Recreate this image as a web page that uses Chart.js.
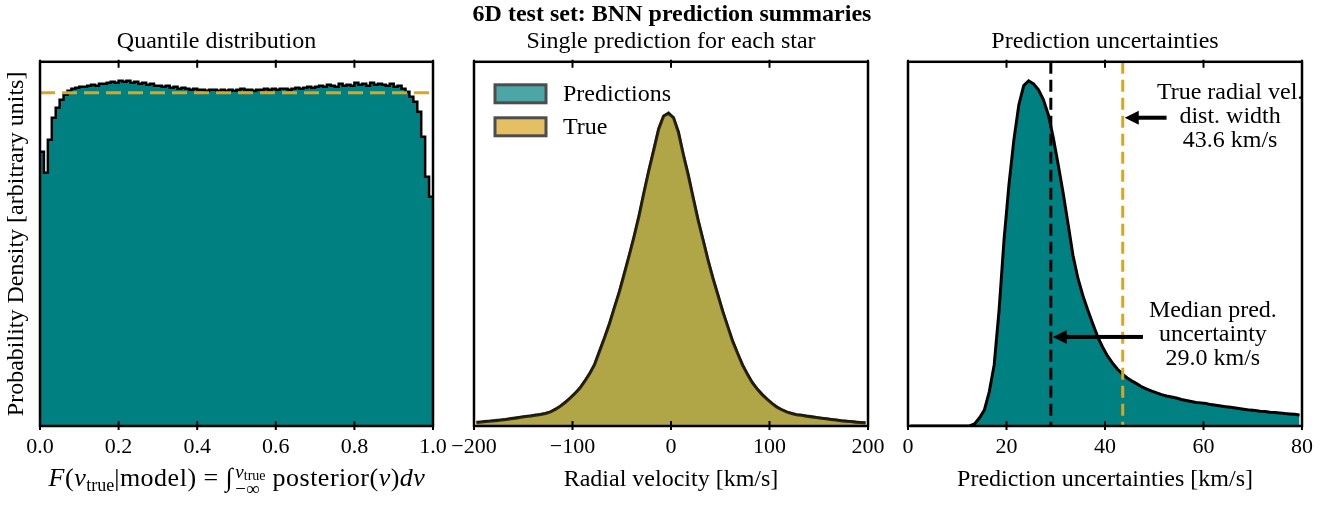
<!DOCTYPE html>
<html>
<head>
<meta charset="utf-8">
<script src="https://cdn.jsdelivr.net/npm/chart.js@4.4.1/dist/chart.umd.min.js"></script>
<style>
  body { margin: 0; background: #fff; }
  #fig { position: relative; width: 1340px; height: 505px; font-family: "Liberation Serif", "Times New Roman", serif; color: #000; overflow: hidden; }
  #fig canvas { position: absolute; top: 0; }
  #suptitle { position: absolute; left: 372px; width: 600px; top: 0; line-height: 26px; text-align: center; font-weight: bold; font-size: 24px; }
  #qlabel { position: absolute; left: 0; width: 474px; top: 463px; line-height: 30px; text-align: center; font-size: 26px; letter-spacing: 0.5px; white-space: nowrap; }
  #qlabel sub { font-size: 18px; line-height: 0; vertical-align: -5px; letter-spacing: 0; }
  .lims { display: inline-block; vertical-align: middle; font-size: 19px; line-height: 17px; margin: 0 7px 0 2px; text-align: left; letter-spacing: 0; }
  .lims > span { display: block; }
  .lims sub { font-size: 14px !important; vertical-align: -2px !important; }
</style>
</head>
<body>
<div id="fig">
  <canvas id="quantChart" width="460" height="505" style="left:0"></canvas>
  <canvas id="velChart" width="470" height="505" style="left:430px"></canvas>
  <canvas id="uncChart" width="460" height="505" style="left:880px"></canvas>
  <div id="suptitle">6D test set: BNN prediction summaries</div>
  <div id="qlabel"><i>F</i>(<i>v</i><sub>true</sub>|model) = ∫<span class="lims"><span><i>v</i><sub>true</sub></span><span>−∞</span></span>posterior(<i>v</i>)<i>dv</i></div>
</div>
<script>
Chart.defaults.font.family = '"Liberation Serif", "Times New Roman", serif';
Chart.defaults.color = '#000';

const TEAL = '#008080';
const GOLD = '#daa520';

// quantile histogram, 100 bins on [0, 1]
const quantileDensity = [
  0.823, 0.760, 0.859, 0.925, 0.955, 0.979, 0.994, 1.006, 1.012, 1.015,
  1.018, 1.018, 1.021, 1.024, 1.021, 1.027, 1.027, 1.030, 1.033, 1.030,
  1.036, 1.033, 1.036, 1.030, 1.033, 1.027, 1.030, 1.024, 1.027, 1.021,
  1.021, 1.018, 1.021, 1.015, 1.018, 1.012, 1.015, 1.012, 1.009, 1.012,
  1.009, 1.009, 1.006, 1.009, 1.009, 1.006, 1.009, 1.006, 1.009, 1.006,
  1.009, 1.012, 1.009, 1.009, 1.006, 1.009, 1.009, 1.012, 1.009, 1.012,
  1.009, 1.012, 1.012, 1.009, 1.012, 1.015, 1.012, 1.015, 1.018, 1.015,
  1.018, 1.021, 1.018, 1.024, 1.021, 1.018, 1.027, 1.021, 1.024, 1.021,
  1.030, 1.024, 1.027, 1.021, 1.030, 1.024, 1.027, 1.024, 1.021, 1.027,
  1.018, 1.021, 1.012, 1.003, 0.988, 0.973, 0.943, 0.868, 0.748, 0.688
];
const uniformLevel = 1.0;

// radial velocity histograms, 5 km/s bins from -200 to 200
const velStart = -200;
const velBinWidth = 5;
const predDensity = [
  0.012, 0.013, 0.015, 0.016, 0.018, 0.019, 0.021, 0.024, 0.026, 0.028,
  0.030, 0.032, 0.035, 0.037, 0.040, 0.044, 0.053, 0.062, 0.075, 0.088,
  0.104, 0.120, 0.143, 0.167, 0.196, 0.240, 0.281, 0.327, 0.377, 0.427,
  0.486, 0.543, 0.604, 0.671, 0.744, 0.815, 0.882, 0.949, 0.989, 1.000,
  0.984, 0.939, 0.866, 0.802, 0.728, 0.658, 0.594, 0.530, 0.473, 0.419,
  0.367, 0.318, 0.272, 0.232, 0.196, 0.165, 0.139, 0.118, 0.101, 0.085,
  0.072, 0.061, 0.051, 0.044, 0.040, 0.036, 0.034, 0.032, 0.030, 0.027,
  0.025, 0.023, 0.021, 0.019, 0.017, 0.016, 0.014, 0.013, 0.011, 0.010
];
const trueDensity = [
  0.011, 0.013, 0.014, 0.016, 0.017, 0.019, 0.021, 0.023, 0.025, 0.028,
  0.030, 0.032, 0.034, 0.037, 0.040, 0.045, 0.053, 0.063, 0.075, 0.089,
  0.104, 0.121, 0.143, 0.168, 0.197, 0.239, 0.282, 0.326, 0.378, 0.428,
  0.485, 0.544, 0.605, 0.670, 0.745, 0.816, 0.881, 0.948, 0.990, 0.998,
  0.985, 0.938, 0.867, 0.801, 0.729, 0.657, 0.595, 0.531, 0.472, 0.420,
  0.366, 0.319, 0.271, 0.233, 0.195, 0.166, 0.138, 0.118, 0.100, 0.086,
  0.072, 0.060, 0.052, 0.045, 0.040, 0.036, 0.034, 0.031, 0.029, 0.027,
  0.025, 0.023, 0.021, 0.019, 0.017, 0.015, 0.014, 0.012, 0.011, 0.010
];

// prediction uncertainty histogram, 1 km/s bins from 0 to 80
const uncStart = 0;
const uncBinWidth = 1;
const uncDensity = [
  0, 0, 0, 0, 0, 0, 0, 0, 0, 0,
  0, 0, 0, 0.006, 0.023, 0.046, 0.099, 0.177, 0.336, 0.539,
  0.699, 0.829, 0.930, 0.986, 1.000, 0.991, 0.974, 0.945, 0.901, 0.835,
  0.757, 0.675, 0.585, 0.494, 0.428, 0.378, 0.336, 0.297, 0.259, 0.229,
  0.203, 0.183, 0.165, 0.151, 0.139, 0.130, 0.122, 0.113, 0.107, 0.101,
  0.096, 0.091, 0.087, 0.084, 0.081, 0.077, 0.074, 0.071, 0.068, 0.067,
  0.065, 0.062, 0.060, 0.058, 0.056, 0.054, 0.052, 0.050, 0.048, 0.046,
  0.045, 0.043, 0.042, 0.040, 0.039, 0.038, 0.036, 0.035, 0.034, 0.032
];
const medianUnc = 29.0;
const trueWidth = 43.6;

// histogram helpers
function stepPoints(vals, lo, hi) {
  const w = (hi - lo) / vals.length;
  const pts = vals.map((v, i) => ({ x: lo + i * w, y: v }));
  pts.push({ x: hi, y: vals[vals.length - 1] });
  return pts;
}
function centerPoints(vals, start, width) {
  return vals.map((v, i) => ({ x: start + (i + 0.5) * width, y: v }));
}

const minus = v => (v < 0 ? '\u2212' + Math.abs(v) : String(v));

function xAxis(min, max, step, fmt, title) {
  return {
    type: 'linear', min: min, max: max,
    grid: { display: false, drawTicks: false },
    border: { display: false },
    ticks: { stepSize: step, autoSkip: false, maxRotation: 0, padding: 8, font: { size: 22 }, callback: fmt },
    title: { display: !!title, text: title || '', font: { size: 24 }, padding: { top: 0, bottom: 11 } },
    afterFit(s) { s.height = 79; }
  };
}
function yAxis(max, title) {
  return {
    display: !!title, min: 0, max: max,
    grid: { display: false }, border: { display: false },
    ticks: { display: false },
    title: { display: !!title, text: title || '', font: { size: 24 }, padding: { top: 2, bottom: 0 } },
    afterFit(s) { if (title) s.width = 40; }
  };
}
function panelTitle(text) {
  return { display: true, text: text, color: '#000', font: { size: 24, weight: 'normal' }, padding: { top: 0, bottom: 6 } };
}

// box frame with in-out tick marks on top and bottom
const frameTicks = {
  id: 'frameTicks',
  afterDraw(chart) {
    const { ctx, chartArea: a, scales: { x } } = chart;
    ctx.save();
    ctx.strokeStyle = '#000';
    ctx.lineWidth = 2;
    x.ticks.forEach(t => {
      const px = x.getPixelForValue(t.value);
      ctx.beginPath();
      ctx.moveTo(px, a.bottom - 5); ctx.lineTo(px, a.bottom + 4);
      ctx.moveTo(px, a.top - 2); ctx.lineTo(px, a.top + 6);
      ctx.stroke();
    });
    ctx.lineWidth = 2.5;
    ctx.strokeRect(a.left, a.top, a.right - a.left, a.bottom - a.top);
    ctx.restore();
  }
};

function baseOptions(pad) {
  return {
    responsive: false, animation: false, events: [], devicePixelRatio: 1,
    layout: { padding: pad },
    elements: { point: { radius: 0 }, line: { tension: 0 } }
  };
}

// ---- panel 1: quantiles
const uniformLine = {
  id: 'uniformLine',
  afterDatasetsDraw(chart) {
    const { ctx, chartArea: a, scales: { y } } = chart;
    const py = y.getPixelForValue(uniformLevel);
    ctx.save();
    ctx.strokeStyle = GOLD; ctx.lineWidth = 3; ctx.setLineDash([15, 7]);
    ctx.beginPath(); ctx.moveTo(a.left, py); ctx.lineTo(a.right, py); ctx.stroke();
    ctx.restore();
  }
};

const opt1 = baseOptions({ left: 0, right: 27, top: 27, bottom: 0 });
opt1.scales = {
  x: xAxis(0, 1, 0.2, v => v.toFixed(1)),
  y: yAxis(1.093, 'Probability Density [arbitrary units]')
};
opt1.plugins = { legend: { display: false }, tooltip: { enabled: false }, title: panelTitle('Quantile distribution') };

new Chart(document.getElementById('quantChart'), {
  type: 'line',
  data: { datasets: [{
    data: stepPoints(quantileDensity, 0, 1),
    stepped: true, fill: 'origin',
    backgroundColor: TEAL, borderColor: '#000', borderWidth: 2.5
  }] },
  options: opt1,
  plugins: [uniformLine, frameTicks]
});

// ---- panel 2: single predictions vs true velocities
const boxLegend = {
  id: 'boxLegend',
  afterDatasetsDraw(chart) {
    const { ctx, chartArea: a } = chart;
    ctx.save();
    chart.data.datasets.forEach((ds, i) => {
      const top = a.top + 23 + i * 33;
      ctx.fillStyle = '#fff';
      ctx.fillRect(a.left + 21, top, 51, 18);
      ctx.fillStyle = ds.backgroundColor;
      ctx.fillRect(a.left + 21, top, 51, 18);
      ctx.lineWidth = 3; ctx.strokeStyle = '#4d4d4d';
      ctx.strokeRect(a.left + 21, top, 51, 18);
      ctx.fillStyle = '#000';
      ctx.font = '24px "Liberation Serif"';
      ctx.textBaseline = 'middle';
      ctx.fillText(ds.label, a.left + 89, top + 10);
    });
    ctx.restore();
  }
};

const opt2 = baseOptions({ left: 44, right: 32, top: 27, bottom: 0 });
opt2.scales = {
  x: xAxis(-200, 200, 100, minus, 'Radial velocity [km/s]'),
  y: yAxis(1.163)
};
opt2.plugins = { legend: { display: false }, tooltip: { enabled: false }, title: panelTitle('Single prediction for each star') };

new Chart(document.getElementById('velChart'), {
  type: 'line',
  data: { datasets: [
    { label: 'Predictions', data: centerPoints(predDensity, velStart, velBinWidth), fill: 'origin', order: 1,
      backgroundColor: 'rgba(0,128,128,0.7)', borderColor: 'rgba(0,0,0,0.7)', borderWidth: 3 },
    { label: 'True', data: centerPoints(trueDensity, velStart, velBinWidth), fill: 'origin', order: 0,
      backgroundColor: 'rgba(218,165,32,0.7)', borderColor: 'rgba(0,0,0,0.7)', borderWidth: 3 }
  ] },
  options: opt2,
  plugins: [boxLegend, frameTicks]
});

// ---- panel 3: prediction uncertainties
function arrow(ctx, x0, y0, x1) {
  const head = 14, half = 7;
  ctx.fillStyle = '#000';
  ctx.fillRect(x1 + head - 1, y0 - 2, x0 - x1 - head + 1, 4);
  ctx.beginPath();
  ctx.moveTo(x1, y0); ctx.lineTo(x1 + head, y0 - half); ctx.lineTo(x1 + head, y0 + half);
  ctx.closePath(); ctx.fill();
}
function textBlock(ctx, lines, cx, cy) {
  ctx.fillStyle = '#000';
  ctx.font = '24px "Liberation Serif"';
  ctx.textAlign = 'center'; ctx.textBaseline = 'middle';
  lines.forEach((s, i) => ctx.fillText(s, cx, cy + (i - 1) * 24));
}

const uncMarks = {
  id: 'uncMarks',
  afterDatasetsDraw(chart) {
    const { ctx, chartArea: a, scales: { x, y } } = chart;
    ctx.save();
    ctx.lineWidth = 3;
    [[medianUnc, '#000'], [trueWidth, GOLD]].forEach(([v, c]) => {
      const px = x.getPixelForValue(v);
      ctx.strokeStyle = c; ctx.setLineDash([12, 6]);
      ctx.beginPath(); ctx.moveTo(px, a.top); ctx.lineTo(px, a.bottom); ctx.stroke();
    });
    ctx.setLineDash([]);
    arrow(ctx, x.getPixelForValue(52.5), y.getPixelForValue(0.893), x.getPixelForValue(trueWidth) + 2);
    arrow(ctx, x.getPixelForValue(47.7), y.getPixelForValue(0.258), x.getPixelForValue(medianUnc) + 2);
    textBlock(ctx, ['True radial vel.', 'dist. width', trueWidth.toFixed(1) + ' km/s'],
      x.getPixelForValue(65.4), y.getPixelForValue(0.896));
    textBlock(ctx, ['Median pred.', 'uncertainty', medianUnc.toFixed(1) + ' km/s'],
      x.getPixelForValue(61.9), y.getPixelForValue(0.264));
    ctx.restore();
  }
};

const opt3 = baseOptions({ left: 28, right: 38, top: 27, bottom: 0 });
opt3.scales = {
  x: xAxis(0, 80, 20, v => String(v), 'Prediction uncertainties [km/s]'),
  y: yAxis(1.055)
};
opt3.plugins = { legend: { display: false }, tooltip: { enabled: false }, title: panelTitle('Prediction uncertainties') };

new Chart(document.getElementById('uncChart'), {
  type: 'line',
  data: { datasets: [{
    data: centerPoints(uncDensity, uncStart, uncBinWidth), fill: 'origin',
    backgroundColor: TEAL, borderColor: '#000', borderWidth: 3
  }] },
  options: opt3,
  plugins: [uncMarks, frameTicks]
});
</script>
</body>
</html>
